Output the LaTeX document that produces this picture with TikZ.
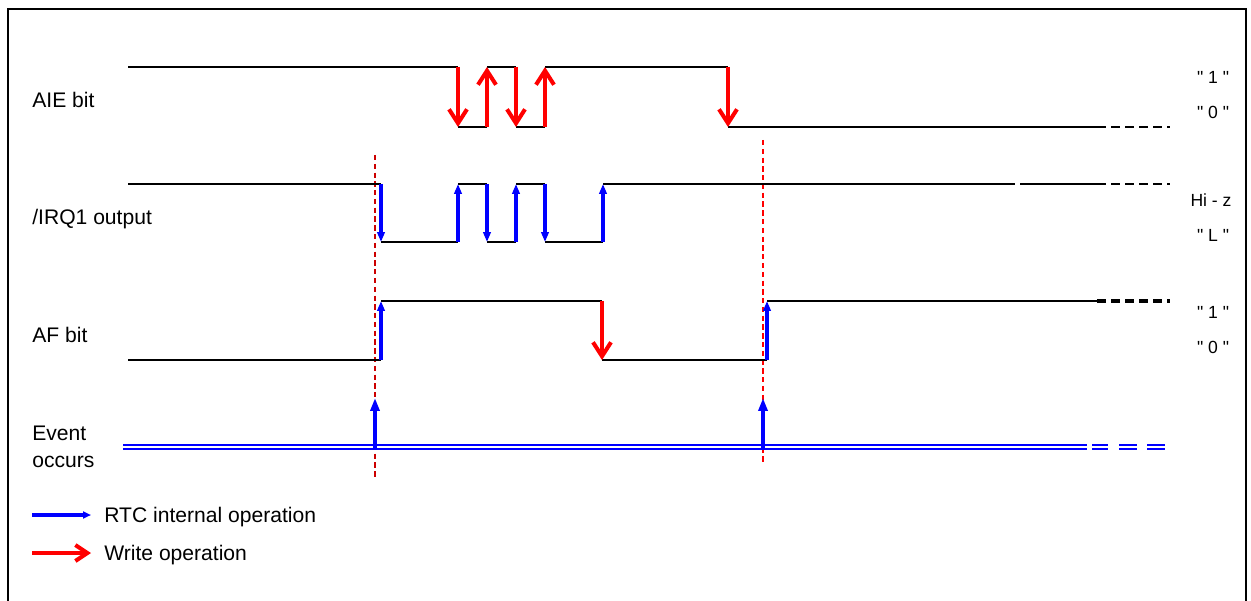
\documentclass[tikz,border=0pt]{standalone}
\usepackage{fontspec}
\setmainfont{Liberation Sans}
\usetikzlibrary{arrows.meta}

\tikzset{
  sig/.style={line width=1.2pt},
  ext/.style={line width=1.2pt, dash pattern=on 5pt off 3pt},
  wrarrow/.style={red, line width=2.3pt, -{Straight Barb[length=2.8mm,width=3.6mm]}},
  rtcarrow/.style={blue, line width=2.4pt, -{Triangle[length=2mm,width=1.5mm]}},
  evtline/.style={blue, line width=1.1pt, double=white, double distance=0.8pt},
  lbl/.style={anchor=base west, inner sep=0pt, font=\fontsize{12}{15}\selectfont},
  lvl/.style={inner sep=0pt, font=\fontsize{10}{12}\selectfont},
}
\newcommand{\qt}[1]{\textquotedbl\ #1 \textquotedbl}

\begin{document}
\begin{tikzpicture}[x=0.02cm,y=-0.02cm]
      \useasboundingbox (0,0) rectangle (1251,601);
      \draw[line width=1.1pt] (8,601) -- (8,9) -- (1246,9) -- (1246,601);

      % event markers
      \draw[red!80!black, line width=0.6pt, dash pattern=on 3pt off 2pt] (375,155) -- (375,478);
      \draw[red, line width=0.9pt, dash pattern=on 3pt off 2pt] (763,140) -- (763,464);

      % AIE bit
      \node[lbl] (aie) at (32,108) {AIE bit};
      \draw[sig] (128,67) -- (458,67) (458,127) -- (487,127) (487,67) -- (516,67)
                 (516,127) -- (545,127) (545,67) -- (728,67) (728,127) -- (1097,127);
      \draw[ext] (1097,127) -- (1170,127);
      \foreach \x/\a/\b in {458/67/127, 487/127/67, 516/67/127, 545/127/67, 728/67/127}
        \draw[wrarrow] (\x,\a) -- (\x,\b);
      \node[lvl] (aieh) at (1213,77) {\qt{1}};
      \node[lvl] (aiel) at (1213,112) {\qt{0}};

      % /IRQ1 output
      \node[lbl] (irq) at (32,225) {/IRQ1 output};
      \draw[sig] (128,184) -- (381,184) (381,242) -- (458,242) (458,184) -- (487,184)
                 (487,242) -- (516,242) (516,184) -- (545,184) (545,242) -- (603,242)
                 (603,184) -- (1015,184) (1020,184) -- (1097,184);
      \draw[ext] (1097,184) -- (1170,184);
      \foreach \x/\a/\b in {381/184/242, 458/242/184, 487/184/242, 516/242/184, 545/184/242, 603/242/184}
        \draw[rtcarrow] (\x,\a) -- (\x,\b);
      \node[lvl] (irqh) at (1211,200) {Hi - z};
      \node[lvl] (irql) at (1213,235) {\qt{L}};

      % AF bit
      \node[lbl] (af) at (32,342) {AF bit};
      \draw[sig] (128,360) -- (381,360) (381,301) -- (602,301) (602,360) -- (767,360) (767,301) -- (1097,301);
      \draw[ext, line width=2pt] (1097,301) -- (1170,301);
      \draw[rtcarrow] (381,360) -- (381,301);
      \draw[wrarrow] (602,301) -- (602,360);
      \draw[rtcarrow] (767,360) -- (767,301);
      \node[lvl] (afh) at (1213,312) {\qt{1}};
      \node[lvl] (afl) at (1213,347) {\qt{0}};

      % event occurs
      \node[lbl, anchor=west, align=left] (evt) at (32,447) {Event\\occurs};
      \draw[evtline] (123,447) -- (1087,447);
      \draw[evtline] (1092,447) -- (1108,447) (1119,447) -- (1137,447) (1147,447) -- (1165,447);
      \draw[blue, line width=2.8pt, -{Triangle[length=2.6mm,width=1.8mm]}] (375,449) -- (375,398);
      \draw[blue, line width=2.8pt, -{Triangle[length=2.6mm,width=1.8mm]}] (763,449) -- (763,398);

      % legend
      \draw[blue, line width=2pt, -{Triangle[length=1.6mm,width=1.4mm]}] (32,515) -- (91,515);
      \node[lbl] (rtcl) at (104,522) {RTC internal operation};
      \draw[red, line width=2.3pt, -{Straight Barb[length=2.4mm,width=3.2mm]}] (32,553) -- (91,553);
      \node[lbl] (wrl) at (104,560) {Write operation};
\end{tikzpicture}
\end{document}
